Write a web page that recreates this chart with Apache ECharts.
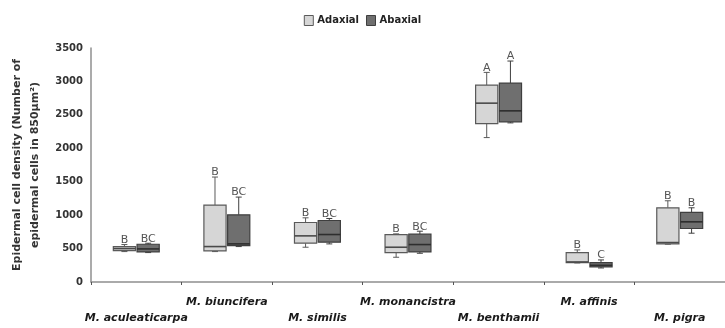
<!DOCTYPE html>
<html>
<head>
<meta charset="utf-8">
<script src="https://cdn.jsdelivr.net/npm/echarts@6/dist/echarts.min.js"></script>
<style>
html,body{margin:0;padding:0;background:#fff;}
#chart{width:725px;height:328px;}
</style>
</head>
<body>
<div id="chart"></div>
<script>
// ---- data ----
const categories = ['M. aculeaticarpa', 'M. biuncifera', 'M. similis', 'M. monancistra', 'M. benthamii', 'M. affinis', 'M. pigra'];
const seriesNames = ['Adaxial', 'Abaxial'];
// [min, Q1, median, Q3, max]
const adaxialStats = [
  [455, 470, 500, 530, 560],
  [455, 465, 530, 1150, 1570],
  [520, 580, 690, 890, 960],
  [370, 440, 520, 710, 720],
  [2160, 2370, 2675, 2945, 3135],
  [285, 290, 300, 440, 480],
  [565, 570, 590, 1110, 1215]
];
const abaxialStats = [
  [440, 450, 495, 565, 580],
  [530, 545, 570, 1005, 1270],
  [570, 595, 710, 920, 950],
  [430, 450, 560, 715, 760],
  [2380, 2395, 2560, 2975, 3305],
  [210, 225, 250, 290, 330],
  [730, 800, 900, 1040, 1110]
];
const adaxialLetters = ['B', 'B', 'B', 'B', 'A', 'B', 'B'];
const abaxialLetters = ['BC', 'BC', 'BC', 'BC', 'A', 'C', 'B'];
const yTicks = {min: 0, max: 3500, interval: 500};

// ---- styles ----
const styles = [
  {fill: '#d6d6d6', stroke: '#5a5a5a', median: '#4a4a4a'},
  {fill: '#6f6f6f', stroke: '#3f3f3f', median: '#2e2e2e'}
];
const FONT = '"DejaVu Sans", sans-serif';

function makeRender(side, letters) {
  const st = styles[side];
  const dir = side === 0 ? -1 : 1;
  return function (params, api) {
    const idx = api.value(0);
    const bw = api.size([1, 0])[0];
    const boxW = bw * 0.245;
    const xc = api.coord([idx, 0])[0] + dir * bw * 0.131;
    const yMin = api.coord([idx, api.value(1)])[1];
    const yQ1 = api.coord([idx, api.value(2)])[1];
    const yMed = api.coord([idx, api.value(3)])[1];
    const yQ3 = api.coord([idx, api.value(4)])[1];
    const yMax = api.coord([idx, api.value(5)])[1];
    const cap = 3;
    const lineStyle = {stroke: st.stroke, lineWidth: 1};
    return {
      type: 'group',
      children: [
        {type: 'line', shape: {x1: xc, y1: yMax, x2: xc, y2: yQ3}, style: lineStyle},
        {type: 'line', shape: {x1: xc, y1: yQ1, x2: xc, y2: yMin}, style: lineStyle},
        {type: 'line', shape: {x1: xc - cap, y1: yMin, x2: xc + cap, y2: yMin}, style: lineStyle},
        {type: 'line', shape: {x1: xc - cap, y1: yMax, x2: xc + cap, y2: yMax}, style: lineStyle},
        {type: 'rect', shape: {x: xc - boxW / 2, y: yQ3, width: boxW, height: yQ1 - yQ3},
          style: {fill: st.fill, stroke: st.stroke, lineWidth: 1.2}},
        {type: 'line', shape: {x1: xc - boxW / 2, y1: yMed, x2: xc + boxW / 2, y2: yMed},
          style: {stroke: st.median, lineWidth: 1.6}},
        {type: 'text', style: {text: letters[idx], x: xc, y: yMax + 1, align: 'center', verticalAlign: 'bottom',
          fill: '#555', font: '11px ' + FONT}}
      ]
    };
  };
}

const chart = echarts.init(document.getElementById('chart'), null, {renderer: 'canvas'});
chart.setOption({
  animation: false,
  backgroundColor: '#ffffff',
  legend: {
    top: 10,
    left: 'center',
    icon: 'rect',
    itemWidth: 9,
    itemHeight: 10,
    itemGap: 7,
    textStyle: {fontFamily: FONT, fontWeight: 'bold', fontSize: 10, color: '#222', padding: [0, 0, 0, -1]},
    data: [
      {name: seriesNames[0], itemStyle: {color: styles[0].fill, borderColor: styles[0].stroke, borderWidth: 1}},
      {name: seriesNames[1], itemStyle: {color: styles[1].fill, borderColor: styles[1].stroke, borderWidth: 1}}
    ]
  },
  grid: {left: 91, top: 48, width: 640, height: 234},
  xAxis: {
    type: 'category',
    data: categories,
    axisLine: {lineStyle: {color: '#8f8f8f', width: 1.5}},
    axisTick: {show: true, length: 3, lineStyle: {color: '#555'}},
    axisLabel: {
      interval: 0,
      margin: 12,
      lineHeight: 16,
      fontFamily: FONT,
      fontSize: 11,
      fontWeight: 'bold',
      fontStyle: 'italic',
      color: '#1a1a1a',
      formatter: function (v, i) { return i % 2 === 0 ? '\n' + v : v; }
    },
    splitLine: {show: false}
  },
  yAxis: {
    type: 'value',
    min: yTicks.min,
    max: yTicks.max,
    interval: yTicks.interval,
    name: 'Epidermal cell density (Number of\nepidermal cells in 850μm²)',
    nameLocation: 'middle',
    nameGap: 46,
    nameTextStyle: {fontFamily: FONT, fontSize: 11, fontWeight: 'bold', color: '#333', lineHeight: 18},
    axisLine: {show: true, lineStyle: {color: '#8f8f8f', width: 1.5}},
    axisTick: {show: false},
    axisLabel: {fontFamily: FONT, fontSize: 10, fontWeight: 'bold', color: '#333', margin: 8,
      formatter: function (v) { return String(v); }},
    splitLine: {show: false}
  },
  series: [
    {
      name: seriesNames[0],
      type: 'custom',
      itemStyle: {color: styles[0].fill, borderColor: styles[0].stroke},
      encode: {x: 0, y: [1, 2, 3, 4, 5]},
      renderItem: makeRender(0, adaxialLetters),
      data: categories.map((c, i) => [i].concat(adaxialStats[i]))
    },
    {
      name: seriesNames[1],
      type: 'custom',
      itemStyle: {color: styles[1].fill, borderColor: styles[1].stroke},
      encode: {x: 0, y: [1, 2, 3, 4, 5]},
      renderItem: makeRender(1, abaxialLetters),
      data: categories.map((c, i) => [i].concat(abaxialStats[i]))
    }
  ]
});
</script>
</body>
</html>
